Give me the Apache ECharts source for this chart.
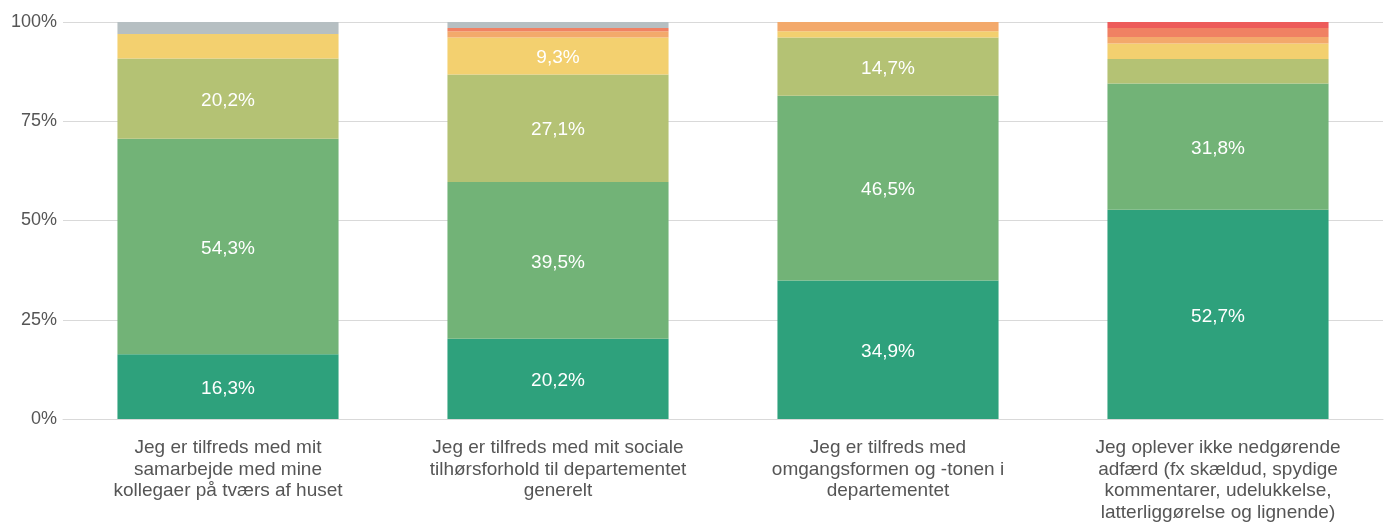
<!DOCTYPE html>
<html>
<head>
<meta charset="utf-8">
<script src="https://cdn.jsdelivr.net/npm/echarts@6/dist/echarts.min.js"></script>
<style>
  html, body { margin: 0; padding: 0; background: #fff; }
  #chart { width: 1391px; height: 528px; }
</style>
</head>
<body>
<div id="chart"></div>
<script>
const categories = [
  'Jeg er tilfreds med mit\nsamarbejde med mine\nkollegaer på tværs af huset',
  'Jeg er tilfreds med mit sociale\ntilhørsforhold til departementet\ngenerelt',
  'Jeg er tilfreds med\nomgangsformen og -tonen i\ndepartementet',
  'Jeg oplever ikke nedgørende\nadfærd (fx skældud, spydige\nkommentarer, udelukkelse,\nlatterliggørelse og lignende)'
]

// stacked from bottom to top
const level1 = [16.3, 20.2, 34.9, 52.7]
const level2 = [54.3, 39.5, 46.5, 31.8]
const level3 = [20.2, 27.1, 14.7, 6.2]
const level4 = [6.2, 9.3, 1.6, 3.9]
const level5 = [0, 1.6, 2.3, 1.6]
const level6 = [0, 0.8, 0, 2.3]
const level7 = [0, 0, 0, 1.6]
const unknown = [3.1, 1.6, 0, 0]

const yTicks = [0, 25, 50, 75, 100]

const levels = [level1, level2, level3, level4, level5, level6, level7, unknown]
const colors = ['#2ea17c', '#72b377', '#b4c274', '#f3d06f', '#f3a96b', '#f08163', '#ed5b5a', '#b6bfc2']

const chart = echarts.init(document.getElementById('chart'))

const series = levels.map((data, i) => ({
  type: 'bar',
  stack: 'total',
  barWidth: '67%',
  data: data,
  itemStyle: { color: colors[i] },
  label: {
    show: true,
    position: 'inside',
    offset: [0, 2],
    color: '#fff',
    fontSize: 19,
    fontFamily: 'Liberation Sans, Arial, sans-serif',
    formatter: function (p) {
      if (p.value < 8) return ''
      return p.value.toFixed(1).replace('.', ',') + '%'
    }
  }
}))

chart.setOption({
  animation: false,
  grid: {
    left: 63,
    right: 8,
    top: 22,
    bottom: 109,
    containLabel: false
  },
  xAxis: {
    type: 'category',
    data: categories,
    axisLine: { show: true, lineStyle: { color: '#d9d9d9' } },
    axisTick: { show: false },
    axisLabel: {
      interval: 0,
      margin: 18,
      color: '#555',
      fontSize: 19,
      lineHeight: 21.7,
      fontFamily: 'Liberation Sans, Arial, sans-serif'
    }
  },
  yAxis: {
    type: 'value',
    min: yTicks[0],
    max: yTicks[yTicks.length - 1],
    interval: 25,
    axisLine: { show: false },
    axisTick: { show: false },
    axisLabel: {
      margin: 6,
      color: '#555',
      fontSize: 18,
      fontFamily: 'Liberation Sans, Arial, sans-serif',
      formatter: '{value}%'
    },
    splitLine: { lineStyle: { color: '#d9d9d9' } }
  },
  series: series
})
</script>
</body>
</html>
